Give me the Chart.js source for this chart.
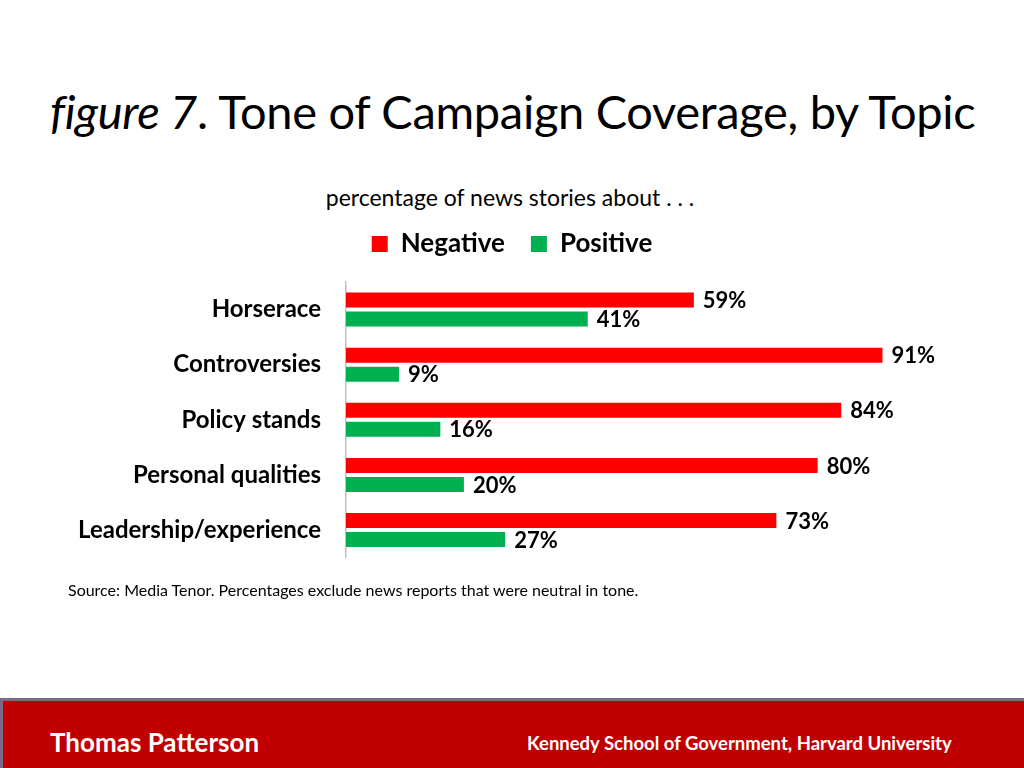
<!DOCTYPE html>
<html>
<head>
<meta charset="utf-8">
<script src="https://cdn.jsdelivr.net/npm/chart.js@4.4.1/dist/chart.umd.min.js"></script>
<style>
  html, body { margin: 0; padding: 0; background: #fff; }
  body { width: 1024px; height: 768px; position: relative; overflow: hidden; font-family: Lato, "Open Sans", sans-serif; color: #000; }
  #title { position: absolute; left: 50px; top: 83px; font-size: 47px; white-space: nowrap; letter-spacing: -0.3px; }
  #sub { position: absolute; left: 0; width: 1020px; top: 183px; text-align: center; font-size: 23px; }
  #wrap { position: absolute; left: 0; top: 205px; width: 1024px; height: 392px; }
  #source { position: absolute; left: 68px; top: 580px; font-size: 16px; }
  #footer { position: absolute; left: 0; top: 698px; width: 1024px; height: 70px; background: #C00000;
            border-top: 3px solid #7A6A86; border-left: 3px solid #7A6A86; box-sizing: border-box; color: #fff; font-weight: bold; }
  #footer .name { position: absolute; left: 47px; top: 25px; font-size: 26px; }
  #footer .school { position: absolute; left: 524px; top: 31px; font-size: 18.5px; }
</style>
</head>
<body>
<div id="title"><i>figure 7</i>. Tone of Campaign Coverage, by Topic</div>
<div id="sub">percentage of news stories about . . .</div>
<div id="wrap"><canvas id="chart"></canvas></div>
<div id="source">Source: Media Tenor. Percentages exclude news reports that were neutral in tone.</div>
<div id="footer"><span class="name">Thomas Patterson</span><span class="school">Kennedy School of Government, Harvard University</span></div>
<script>
const topics   = ['Horserace', 'Controversies', 'Policy stands', 'Personal qualities', 'Leadership/experience'];
const negative = [59, 91, 84, 80, 73];
const positive = [41, 9, 16, 20, 27];

const FONT = 'Lato, "Open Sans", sans-serif';

// value labels just past the end of each bar
const barLabels = {
  id: 'barLabels',
  afterDatasetsDraw(chart) {
    const ctx = chart.ctx;
    ctx.save();
    ctx.font = 'bold 22px ' + FONT;
    ctx.fillStyle = '#000';
    ctx.textBaseline = 'middle';
    chart.data.datasets.forEach((ds, i) => {
      chart.getDatasetMeta(i).data.forEach((bar, j) => {
        ctx.fillText(ds.data[j] + '%', bar.x + 9, bar.y + 1);
      });
    });
    ctx.restore();
  }
};

// extra room between the legend and the bars
const legendGap = {
  id: 'legendGap',
  beforeInit(chart) {
    const fit = chart.legend.fit;
    chart.legend.fit = function () {
      fit.bind(chart.legend)();
      this.height += 15;
    };
  }
};

new Chart(document.getElementById('chart'), {
  type: 'bar',
  data: {
    labels: topics,
    datasets: [
      { label: 'Negative', data: negative, backgroundColor: '#FF0000' },
      { label: 'Positive', data: positive, backgroundColor: '#00B050' },
    ],
  },
  options: {
    indexAxis: 'y',
    responsive: true,
    maintainAspectRatio: false,
    animation: false,
    categoryPercentage: 0.69,
    barPercentage: 0.79,
    layout: { padding: { left: 0, right: 0, top: 0, bottom: 8 } },
    plugins: {
      legend: {
        position: 'top',
        labels: {
          color: '#000',
          font: { family: FONT, size: 26, weight: 'bold' },
          boxWidth: 16, boxHeight: 16, padding: 26,
        },
      },
      tooltip: { enabled: false },
    },
    scales: {
      x: { display: false, min: 0, max: 115 },
      y: {
        grid: { display: false, drawTicks: false },
        border: { color: '#BFBFBF', width: 1.5 },
        ticks: { color: '#000', padding: 25, font: { family: FONT, size: 24, weight: 'bold' } },
        afterFit(scale) { scale.width = 346; },
      },
    },
  },
  plugins: [barLabels, legendGap],
});
</script>
</body>
</html>
